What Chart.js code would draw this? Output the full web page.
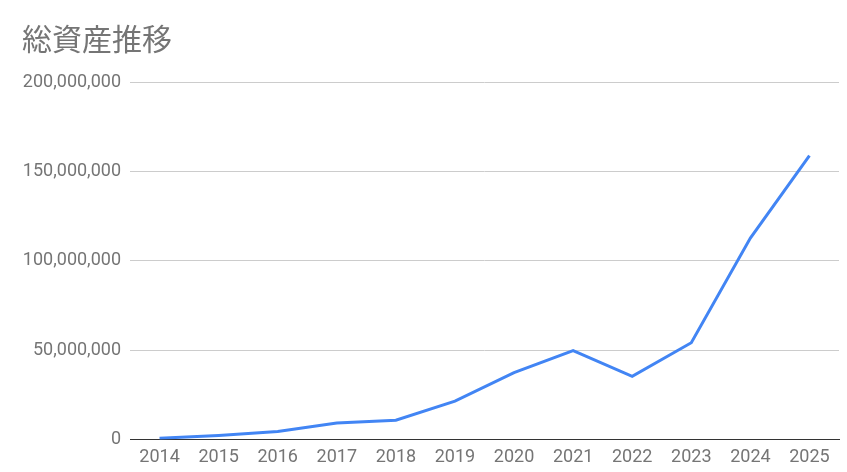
<!DOCTYPE html>
<html>
<head>
<meta charset="utf-8">
<script src="https://cdn.jsdelivr.net/npm/chart.js@4/dist/chart.umd.min.js"></script>
<style>
  html, body { margin: 0; padding: 0; background: #fff; }
  canvas { display: block; }
</style>
</head>
<body>
<canvas id="grafico" width="847" height="472"></canvas>
<script>
// データ
const years = ["2014", "2015", "2016", "2017", "2018", "2019", "2020", "2021", "2022", "2023", "2024", "2025"];
const totalAssets = [600000, 2200000, 4400000, 9200000, 10700000, 21400000, 37400000, 49700000, 35300000, 54100000, 112700000, 158800000];
const yTicks = [0, 50000000, 100000000, 150000000, 200000000];

const ctx = document.getElementById("grafico").getContext("2d");

new Chart(ctx, {
    type: "line",
    data: {
        labels: years,
        datasets: [{
            label: "総資産",
            data: totalAssets,
            borderColor: "#4285f4",
            borderWidth: 3,
            pointRadius: 0,
            tension: 0,
            fill: false
        }]
    },
    options: {
        responsive: false,
        animation: false,
        layout: { padding: { top: 3, right: 8, bottom: -3, left: 22 } },
        plugins: {
            legend: { display: false },
            tooltip: { enabled: false },
            title: {
                display: true,
                text: "総資産推移",
                align: "start",
                color: "#757575",
                font: { family: "'Noto Sans CJK JP', Roboto, sans-serif", size: 30, weight: "normal" },
                padding: { top: 18, bottom: 25 }
            }
        },
        scales: {
            x: {
                offset: true,
                grid: { display: false, drawTicks: false },
                border: { display: true, color: "#333333", width: 1 },
                ticks: {
                    color: "#757575",
                    padding: 7,
                    maxRotation: 0,
                    font: { family: "Roboto, sans-serif", size: 18 }
                }
            },
            y: {
                min: 0,
                max: 200000000,
                afterFit: (s) => { s.width = 108; },
                afterBuildTicks: (s) => { s.ticks = yTicks.map((v) => ({ value: v })); },
                grid: { color: "#cccccc", drawTicks: false },
                border: { display: false },
                ticks: {
                    color: "#757575",
                    padding: 9,
                    font: { family: "Roboto, sans-serif", size: 18 },
                    callback: (v) => v.toLocaleString("en-US")
                }
            }
        }
    }
});
</script>
</body>
</html>
